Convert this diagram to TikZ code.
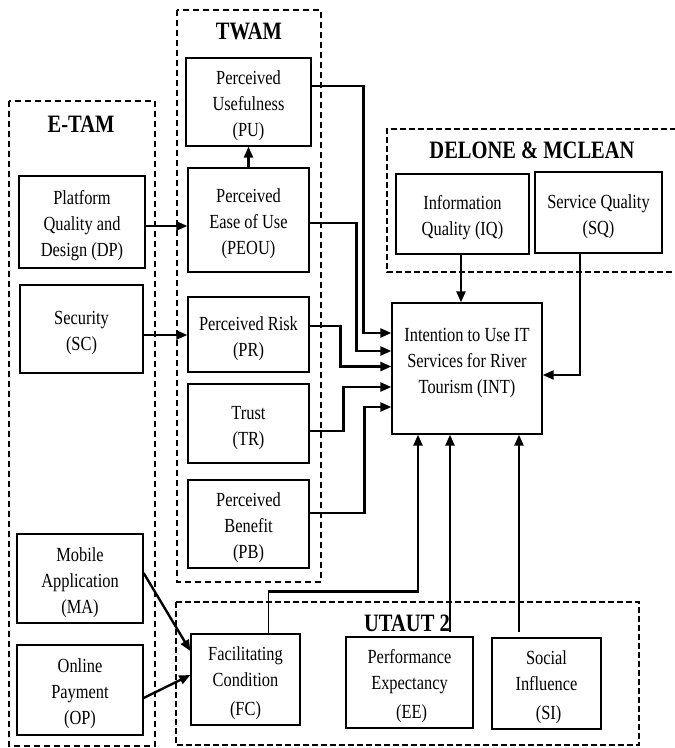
\documentclass[tikz,border=0pt]{standalone}
\usepackage{fontspec}
\setmainfont{Liberation Serif}[FakeStretch=0.82]
\usetikzlibrary{arrows.meta}
\newcommand\tpad{\rule{0pt}{22pt}}
\begin{document}
\begin{tikzpicture}[x=1pt,y=-1pt,
  box/.style={draw, line width=1.3pt, align=center, inner sep=0pt, font=\fontsize{20}{26}\selectfont},
  conn/.style={line width=2.4pt, -{Triangle[length=11pt,width=9pt]}},
  grpthick/.style={line width=2pt, dash pattern=on 6pt off 4pt},
  grpthin/.style={line width=1.2pt, dash pattern=on 6pt off 3pt},
  title/.style={font=\fontsize{25}{30}\selectfont\bfseries, inner sep=0pt}]
\useasboundingbox (0,0) rectangle (675,748);
\fill[white] (0,0) rectangle (675,748);

% group containers
\draw[grpthick] (177,10) rectangle (321,582);
\draw[grpthick] (9,101) rectangle (155,746);
\draw[grpthin] (676,129) -- (387,129) -- (387,272) -- (676,272);
\draw[grpthin] (176,602) rectangle (639,745);

% titles
\node[title] (twamt) at (249,31) {TWAM};
\node[title] (etamt) at (81,124) {E-TAM};
\node[title] (delt) at (532,150) {DELONE \& MCLEAN};
\node[title] (utt) at (407,623) {UTAUT 2};

% TWAM boxes
\node[box, minimum width=125pt, minimum height=88pt] (PU) at (248.5,102) {\tpad Perceived\\Usefulness\\(PU)};
\node[box, minimum width=121pt, minimum height=104pt] (PEOU) at (248.5,220) {\tpad Perceived\\Ease of Use\\(PEOU)};
\node[box, minimum width=121pt, minimum height=75pt] (PR) at (248.5,334.5) {\tpad Perceived Risk\\(PR)};
\node[box, minimum width=121pt, minimum height=79pt] (TR) at (248.5,423.5) {\tpad Trust\\(TR)};
\node[box, minimum width=121pt, minimum height=88pt] (PB) at (248.5,524) {\tpad Perceived\\Benefit\\(PB)};

% E-TAM boxes
\node[box, minimum width=126pt, minimum height=92pt] (DP) at (82,222) {\tpad Platform\\Quality and\\Design (DP)};
\node[box, minimum width=123pt, minimum height=88pt] (SC) at (81.5,329) {\tpad Security\\(SC)};
\node[box, minimum width=126pt, minimum height=89pt] (MA) at (80,578.5) {\tpad Mobile\\Application\\(MA)};
\node[box, minimum width=126pt, minimum height=90pt] (OP) at (80,690) {\tpad Online\\Payment\\(OP)};

% DeLone & McLean boxes
\node[box, minimum width=133pt, minimum height=80pt] (IQ) at (462.5,214) {\tpad Information\\Quality (IQ)};
\node[box, minimum width=127pt, minimum height=81pt] (SQ) at (598.5,212.5) {\tpad Service Quality\\(SQ)};

% INT
\node[box, minimum width=150pt, minimum height=131pt] (INT) at (467,368.5) {Intention to Use IT\\Services for River\\Tourism (INT)\rule[-15pt]{0pt}{0pt}};

% UTAUT boxes
\node[box, minimum width=109pt, minimum height=91pt] (FC) at (245.5,679.5) {\tpad Facilitating\\Condition\\[3pt](FC)};
\node[box, minimum width=127pt, minimum height=91pt] (EE) at (409.5,682.5) {\tpad Performance\\Expectancy\\[3pt]\ (EE)};
\node[box, minimum width=109pt, minimum height=91pt] (SI) at (546.5,683.5) {\tpad Social\\Influence\\[3pt]\ (SI)};

% connectors
\draw[conn] (PEOU.north) -- (PU.south);
\draw[conn] ([yshift=16pt]PU.east) -- ++(52,0) |- ([yshift=35.5pt]INT.west);
\draw[conn] ([yshift=-3pt]PEOU.east) -- ++(47,0) |- ([yshift=17.5pt]INT.west);
\draw[conn] ([yshift=8.5pt]PR.east) -- ++(31,0) |- ([yshift=2pt]INT.west);
\draw[conn] ([yshift=-7.5pt]TR.east) -- ++(34,0) |- ([yshift=-18.5pt]INT.west);
\draw[conn] ([yshift=11pt]PB.east) -- ++(55,0) |- ([yshift=-38.5pt]INT.west);

\draw[conn] ([xshift=-1.5pt]IQ.south) -- ([xshift=-1.5pt]IQ.south |- INT.north);
\draw[conn] ([xshift=-18.5pt]SQ.south) |- ([yshift=-6.5pt]INT.east);

\draw[line width=0.8pt] ([xshift=22.5pt]FC.north) -- ++(0,-42) coordinate (fcturn);
\draw[conn] ([xshift=-0.4pt]fcturn) -| ([xshift=-49pt]INT.south);
\draw[conn] ([xshift=40.5pt,yshift=4pt]EE.north) -- ([xshift=40.5pt]EE.north |- INT.south);
\draw[conn] ([xshift=-27.5pt,yshift=5pt]SI.north) -- ([xshift=-27.5pt]SI.north |- INT.south);

\draw[conn] ([yshift=-4pt]DP.east) -- ([yshift=-4pt]DP.east -| PEOU.west);
\draw[conn] ([yshift=-6pt]SC.east) -- ([yshift=-6pt]SC.east -| PR.west);
\draw[conn] ([yshift=5.5pt]MA.east) -- ([yshift=28.5pt]FC.west);
\draw[conn] ([yshift=-8pt]OP.east) -- ([yshift=4.5pt]FC.west);
\end{tikzpicture}
\end{document}
